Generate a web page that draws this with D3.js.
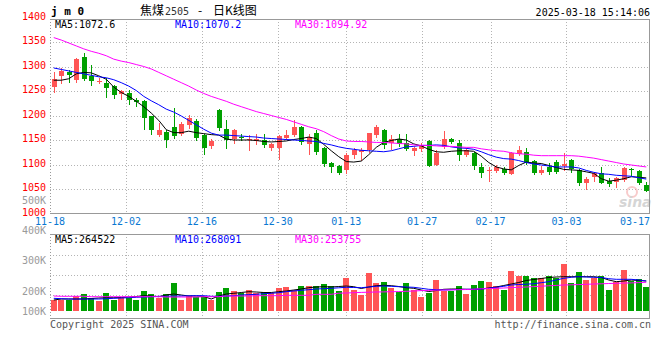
<!DOCTYPE html>
<html>
<head>
<meta charset="utf-8">
<script src="https://cdn.jsdelivr.net/npm/d3@7"></script>
<style>
html, body { margin: 0; padding: 0; background: #fff; }
svg { display: block; }
text { font-family: "DejaVu Sans Mono", "Liberation Mono", monospace; font-size: 10px; }
</style>
</head>
<body>
<div id="chart"></div>
<script>
// trading days shown (jm0, daily K line)
const dates = [
  "11-18","11-19","11-20","11-21","11-22","11-25","11-26","11-27","11-28","11-29",
  "12-02","12-03","12-04","12-05","12-06","12-09","12-10","12-11","12-12","12-13",
  "12-16","12-17","12-18","12-19","12-20","12-23","12-24","12-25","12-26","12-27",
  "12-30","12-31","01-02","01-03","01-06","01-07","01-08","01-09","01-10","01-13",
  "01-14","01-15","01-16","01-17","01-20","01-21","01-22","01-23","01-24","01-27",
  "02-05","02-06","02-07","02-10","02-11","02-12","02-13","02-14","02-17","02-18",
  "02-19","02-20","02-21","02-24","02-25","02-26","02-27","02-28","03-03","03-04",
  "03-05","03-06","03-07","03-10","03-11","03-12","03-13","03-14","03-17","03-18"
];

const openPx = [
  1258,1281,1289,1272,1319,1280,1270,1266,1260,1243,
  1246,1231,1230,1199,1160,1167,1176,1163,1180,1188,
  1160,1138,1211,1172,1153,1157,1150,1148,1151,1134,
  1133,1155,1160,1176,1142,1165,1133,1104,1097,1089,
  1119,1126,1129,1160,1170,1143,1153,1143,1128,1131,
  1148,1099,1135,1152,1144,1119,1123,1095,1088,1087,
  1090,1080,1121,1126,1108,1083,1095,1105,1097,1110,
  1089,1062,1074,1082,1066,1065,1068,1091,1087,1058
];
const closePx = [
  1275,1291,1282,1316,1275,1270,1271,1256,1241,1250,
  1231,1227,1194,1170,1170,1150,1158,1182,1194,1155,
  1133,1148,1174,1150,1170,1155,1152,1153,1140,1141,
  1159,1160,1177,1146,1156,1126,1102,1095,1082,1119,
  1129,1129,1165,1177,1140,1153,1142,1131,1134,1140,
  1097,1124,1153,1146,1119,1129,1097,1083,1089,1095,
  1083,1123,1129,1104,1083,1089,1085,1085,1102,1090,
  1062,1070,1082,1063,1060,1072,1092,1089,1062,1046
];
const highPx = [
  1289,1296,1292,1317,1328,1304,1277,1277,1262,1252,
  1252,1235,1231,1200,1185,1170,1216,1187,1201,1193,
  1163,1153,1213,1190,1172,1162,1160,1163,1163,1143,
  1160,1170,1190,1178,1163,1170,1135,1105,1100,1123,
  1133,1133,1165,1180,1172,1160,1163,1162,1136,1143,
  1150,1130,1168,1155,1151,1133,1126,1104,1095,1100,
  1095,1126,1138,1134,1110,1097,1104,1110,1123,1112,
  1091,1074,1085,1094,1072,1074,1094,1092,1089,1065
];
const lowPx = [
  1248,1267,1268,1268,1272,1262,1266,1237,1235,1233,
  1224,1219,1173,1163,1158,1135,1154,1160,1175,1150,
  1121,1133,1170,1134,1143,1150,1130,1142,1136,1130,
  1112,1153,1158,1141,1122,1122,1097,1085,1080,1082,
  1114,1110,1125,1157,1133,1132,1138,1130,1120,1127,
  1096,1098,1133,1143,1110,1117,1090,1075,1067,1085,
  1081,1080,1119,1101,1081,1081,1081,1082,1089,1085,
  1058,1049,1067,1062,1057,1055,1067,1078,1060,1046
];

// moving averages
const ma5 = [
  1272,1272,1275,1285,1288,1287,1281,1274,1258,1247,
  1239,1229,1218,1205,1190,1171,1165,1165,1168,1165,
  1163,1161,1160,1152,1150,1150,1150,1149,1147,1146,
  1147,1148,1151,1153,1156,1153,1141,1128,1116,1106,
  1105,1107,1120,1135,1145,1149,1152,1150,1142,1138,
  1131,1126,1125,1127,1128,1128,1127,1117,1104,1095,
  1091,1089,1098,1105,1103,1102,1098,1094,1090,1089,
  1088,1085,1082,1071,1066,1068,1071,1075,1074,1072.6
];
const ma10 = [
  1297,1294,1291,1288,1285,1282,1279,1277,1273,1267,
  1260,1251,1239,1230,1222,1213,1207,1199,1190,1181,
  1172,1164,1160,1160,1159,1158,1157,1156,1154,1153,
  1152,1151,1150,1149,1148,1147,1143,1140,1136,1133,
  1131,1129,1128,1127,1126,1128,1132,1136,1137,1139,
  1139,1140,1139,1136,1134,1133,1131,1126,1120,1115,
  1112,1111,1108,1104,1101,1099,1097,1095,1095,1095,
  1093,1088,1084,1081,1080,1078,1077,1076,1073,1070.2
];
const ma30 = [
  1359,1354,1348,1342,1336,1331,1327,1322,1315,1311,
  1308,1304,1300,1295,1288,1281,1274,1267,1260,1252,
  1245,1239,1234,1229,1223,1218,1213,1208,1204,1200,
  1196,1192,1187,1182,1177,1173,1167,1159,1152,1148,
  1147,1147,1146,1145,1145,1144,1143,1142,1140,1139,
  1139,1138,1137,1137,1136,1135,1135,1132,1130,1128,
  1127,1124,1122,1121,1119,1118,1118,1118,1118,1118,
  1117,1115,1113,1110,1107,1104,1101,1099,1097,1095
];

const volume = [
  155000,155000,155000,175000,185000,163500,150000,190000,155000,166500,
  163500,155000,200000,185000,166500,185000,240000,155000,175000,171500,
  171500,155000,195000,216500,200000,190000,205000,191500,195000,188500,
  216500,221500,205000,225000,225000,225000,235000,225000,201500,263500,
  205000,180000,291500,241500,246500,213500,196500,241500,205000,171500,
  191500,255000,201500,201500,225000,185000,230000,251500,246500,225000,
  205000,301500,276500,276500,266500,263500,276500,263500,335000,241500,
  295000,255000,263500,275000,205000,246500,305000,250000,260000,221500
];
const volMa5 = [
  155000,160000,160000,160000,160000,162500,165000,166500,166500,167500,
  170000,172500,176500,175000,171500,180000,185000,180000,175000,175000,
  172500,160000,175000,185000,188500,192500,196500,195000,192500,192500,
  196500,200000,205000,210000,216500,220000,221500,220000,222500,225000,
  221500,212500,220000,226500,228500,226500,222500,216500,213500,205000,
  197500,202500,208500,210000,210000,208500,207500,210000,215000,220000,
  227500,235000,242500,252500,257500,262500,267500,270000,271500,271500,
  271500,271500,271500,267500,255000,246500,250000,255000,252500,250000
];
const volMa10 = [
  163500,161500,160000,160000,160000,160000,160000,161500,163500,165000,
  166500,168500,170000,171500,173500,173500,175000,175000,176000,176500,
  176500,173500,173500,175000,176500,180000,181500,183500,186500,188500,
  191500,196500,200000,203500,206500,210000,211500,213500,216000,218500,
  217500,216500,220000,223500,225000,223500,221500,220000,218500,213500,
  208500,206500,205000,206500,207500,208500,209000,210000,213500,218500,
  223500,230000,232500,234000,236500,241500,246500,255000,263500,268500,
  271500,270000,268500,267500,261500,258500,258500,258500,255000,250000
];
const volMa30 = [
  175000,173500,173500,173500,173500,171500,171500,171500,171500,171500,
  171500,171500,171500,171500,171500,170000,170000,170000,170000,170000,
  171500,171500,171500,175000,175000,175000,175000,176500,176500,176500,
  176500,178500,178500,178500,178500,183500,183500,183500,189000,190000,
  191500,193000,194000,195000,195500,196500,197000,198500,200000,202000,
  203000,204000,205000,205500,206500,207500,209000,211000,212500,213500,
  215000,217000,218500,220000,222000,224000,226000,228000,230000,231000,
  232000,233500,235000,236000,237500,238500,239500,240500,242000,243500
];

const priceTicks = [1000, 1050, 1100, 1150, 1200, 1250, 1300, 1350, 1400];
const volTicks = [100000, 200000, 300000, 400000, 500000];
const dateTicks = ["11-18","12-02","12-16","12-30","01-13","01-27","02-17","03-03","03-17"];

const priceLegend = ["MA5:1072.6", "MA10:1070.2", "MA30:1094.92"];
const volLegend = ["MA5:264522", "MA10:268091", "MA30:253755"];
const maColors = ["#000000", "#0000ff", "#ff00ff"];

const W = 660, H = 360;
const L = 50, R = 650;
const mainTop = 19, mainBottom = 213;
const volTop = 234, volBottom = 318;
const upColor = "#ff5555", downColor = "#00a000";
const gridColor = "#b4b4b4", frameColor = "#999999";

const svg = d3.select("#chart").append("svg")
  .attr("width", W)
  .attr("height", H);

// scales
const xBand = d3.scaleBand().domain(dates).range([L, R]);     // candles and bars
const xGrid = d3.scalePoint().domain(dates).range([L, R]);    // gridlines and date labels
const yScale = d3.scaleLinear().domain([1000, 1400]).range([213.5, 17.5]);
const vScale = d3.scaleLinear().domain([100000, 500000]).range([311, 231]);
const vLabelScale = d3.scaleLinear().domain([100000, 200000, 500000]).range([311, 291, 200]);

const cx = d => Math.round(xBand(d) + xBand.bandwidth() / 2) + 0.5;
const isUp = i => closePx[i] >= openPx[i];

// clip paths
const defs = svg.append("defs");
defs.append("clipPath").attr("id", "clip-main")
  .append("rect").attr("x", L).attr("y", mainTop).attr("width", R - L).attr("height", mainBottom - mainTop);
defs.append("clipPath").attr("id", "clip-vol")
  .append("rect").attr("x", L).attr("y", volTop).attr("width", R - L).attr("height", volBottom - volTop);

// ---- grid ----
const grid = svg.append("g")
  .attr("stroke", gridColor)
  .attr("stroke-dasharray", "1,2")
  .attr("shape-rendering", "crispEdges");

grid.selectAll(".hgrid")
  .data(priceTicks.filter(v => v > 1000 && v < 1400))
  .join("line")
  .attr("x1", L).attr("x2", R)
  .attr("y1", v => Math.round(yScale(v)) + 0.5)
  .attr("y2", v => Math.round(yScale(v)) + 0.5);

grid.selectAll(".vgridHoriz")
  .data(d3.range(1, 4))
  .join("line")
  .attr("x1", L).attr("x2", R)
  .attr("y1", k => volTop + 1 + k * 20 + 0.5)
  .attr("y2", k => volTop + 1 + k * 20 + 0.5);

const innerTicks = dateTicks.slice(1, -1);
grid.selectAll(".xgridMain")
  .data(innerTicks)
  .join("line")
  .attr("x1", d => Math.round(xGrid(d)) + 0.5)
  .attr("x2", d => Math.round(xGrid(d)) + 0.5)
  .attr("y1", mainTop).attr("y2", mainBottom);

grid.selectAll(".xgridVol")
  .data(innerTicks)
  .join("line")
  .attr("class", "xgridVol")
  .attr("x1", d => Math.round(xGrid(d)) + 0.5)
  .attr("x2", d => Math.round(xGrid(d)) + 0.5)
  .attr("y1", volTop).attr("y2", volBottom);

// ---- frames ----
function frame(top, bottom) {
  const f = svg.append("g")
    .attr("stroke", frameColor)
    .attr("fill", "none")
    .attr("shape-rendering", "crispEdges");
  f.append("line").attr("x1", L).attr("x2", R).attr("y1", top + 0.5).attr("y2", top + 0.5);
  f.append("line").attr("x1", L).attr("x2", R).attr("y1", bottom + 0.5).attr("y2", bottom + 0.5);
  f.append("line").attr("x1", R - 0.5).attr("x2", R - 0.5).attr("y1", top).attr("y2", bottom + 1);
  f.append("line").attr("x1", L + 0.5).attr("x2", L + 0.5).attr("y1", top).attr("y2", bottom + 1)
    .attr("stroke-dasharray", "1,2");
}
frame(mainTop, mainBottom);
frame(volTop, volBottom);

// ---- watermark (sina logo, faint) ----
const wm = svg.append("g").attr("opacity", 0.4);
wm.append("circle").attr("cx", 632).attr("cy", 192).attr("r", 5)
  .attr("fill", "none").attr("stroke", "#f08080").attr("stroke-width", 2);
wm.append("text").attr("x", 619).attr("y", 207)
  .style("font-family", "\"DejaVu Sans\", sans-serif")
  .style("font-size", "14px").style("font-style", "italic").style("font-weight", "bold")
  .attr("fill", "#999999").text("sina");

// ---- candles ----
const candles = svg.append("g")
  .attr("clip-path", "url(#clip-main)")
  .attr("shape-rendering", "crispEdges");

candles.selectAll(".wick")
  .data(dates)
  .join("line")
  .attr("x1", d => cx(d)).attr("x2", d => cx(d))
  .attr("y1", (d, i) => Math.round(yScale(highPx[i])))
  .attr("y2", (d, i) => Math.round(yScale(lowPx[i])) + 1)
  .attr("stroke", (d, i) => isUp(i) ? upColor : downColor);

candles.selectAll(".body")
  .data(dates)
  .join("rect")
  .attr("x", d => cx(d) - 2.5)
  .attr("width", 5)
  .attr("y", (d, i) => Math.round(yScale(Math.max(openPx[i], closePx[i]))))
  .attr("height", (d, i) => Math.max(1,
    Math.round(yScale(Math.min(openPx[i], closePx[i]))) - Math.round(yScale(Math.max(openPx[i], closePx[i])))))
  .attr("fill", (d, i) => isUp(i) ? upColor : downColor);

// ---- price MA lines ----
const priceLine = d3.line()
  .x((v, i) => xBand(dates[i]) + xBand.bandwidth() / 2)
  .y(v => yScale(v));

const maGroup = svg.append("g").attr("clip-path", "url(#clip-main)").attr("fill", "none");
[ma5, ma10, ma30].forEach((s, k) => {
  maGroup.append("path")
    .datum(s)
    .attr("d", priceLine)
    .attr("stroke", maColors[k])
    .attr("stroke-width", 1);
});

// ---- volume bars ----
const vols = svg.append("g")
  .attr("clip-path", "url(#clip-vol)")
  .attr("shape-rendering", "crispEdges");

vols.selectAll(".vbar")
  .data(dates)
  .join("rect")
  .attr("x", d => cx(d) - 3.5)
  .attr("width", 6)
  .attr("y", (d, i) => Math.round(vScale(volume[i])))
  .attr("height", (d, i) => vScale.range()[0] - Math.round(vScale(volume[i])))
  .attr("fill", (d, i) => isUp(i) ? upColor : downColor);

const volLine = d3.line()
  .x((v, i) => xBand(dates[i]) + xBand.bandwidth() / 2)
  .y(v => vScale(v));

const vmaGroup = svg.append("g").attr("clip-path", "url(#clip-vol)").attr("fill", "none");
[volMa5, volMa10, volMa30].forEach((s, k) => {
  vmaGroup.append("path")
    .datum(s)
    .attr("d", volLine)
    .attr("stroke", maColors[k])
    .attr("stroke-width", 1);
});

// ---- axis labels ----
svg.append("g").selectAll("text")
  .data(priceTicks)
  .join("text")
  .attr("x", 46)
  .attr("y", v => yScale(v) - 1.5)
  .attr("text-anchor", "end")
  .attr("dominant-baseline", "central")
  .attr("fill", "#ff0000")
  .text(v => v);

svg.append("g").selectAll("text")
  .data(volTicks)
  .join("text")
  .attr("x", 46)
  .attr("y", v => vLabelScale(v))
  .attr("text-anchor", "end")
  .attr("dominant-baseline", "central")
  .attr("fill", "#9a9a9a")
  .text(v => d3.format(".0f")(v / 1000) + "K");

svg.append("g").selectAll("text")
  .data(dateTicks)
  .join("text")
  .attr("x", d => Math.min(xGrid(d), R - 15))
  .attr("y", 221)
  .attr("text-anchor", "middle")
  .attr("dominant-baseline", "central")
  .attr("fill", "#0a78d2")
  .text(d => d);

// ---- legends ----
const legendX = [55, 175, 295];
svg.append("g").selectAll("text")
  .data(priceLegend)
  .join("text")
  .attr("x", (d, i) => legendX[i])
  .attr("y", 24)
  .attr("dominant-baseline", "central")
  .attr("fill", (d, i) => maColors[i])
  .text(d => d);

svg.append("g").selectAll("text")
  .data(volLegend)
  .join("text")
  .attr("x", (d, i) => legendX[i])
  .attr("y", 239)
  .attr("dominant-baseline", "central")
  .attr("fill", (d, i) => maColors[i])
  .text(d => d);

// ---- header ----
svg.append("text")
  .attr("x", 51).attr("y", 15)
  .style("font-size", "11px").style("font-weight", "bold")
  .attr("fill", "#000")
  .text("j m 0");

const title = svg.append("text")
  .attr("y", 15)
  .style("font-family", "\"Noto Sans CJK SC\", sans-serif")
  .style("font-size", "12px")
  .attr("fill", "#000");
title.append("tspan").attr("x", 140).text("焦煤");
title.append("tspan").attr("x", 165)
  .style("font-family", "\"DejaVu Sans Mono\", monospace").style("font-size", "10px")
  .attr("fill", "#333").text("2505");
title.append("tspan").attr("x", 198).text("-");
title.append("tspan").attr("x", 213).text("日K线图");

svg.append("text")
  .attr("x", 650).attr("y", 16)
  .attr("text-anchor", "end")
  .attr("fill", "#000")
  .text("2025-03-18 15:14:06");

// ---- footer ----
svg.append("text")
  .attr("x", 50).attr("y", 324)
  .attr("dominant-baseline", "central")
  .attr("fill", "#555")
  .text("Copyright 2025 SINA.COM");

svg.append("text")
  .attr("x", 651).attr("y", 324)
  .attr("text-anchor", "end")
  .attr("dominant-baseline", "central")
  .attr("fill", "#555")
  .text("http://finance.sina.com.cn");
</script>
</body>
</html>
